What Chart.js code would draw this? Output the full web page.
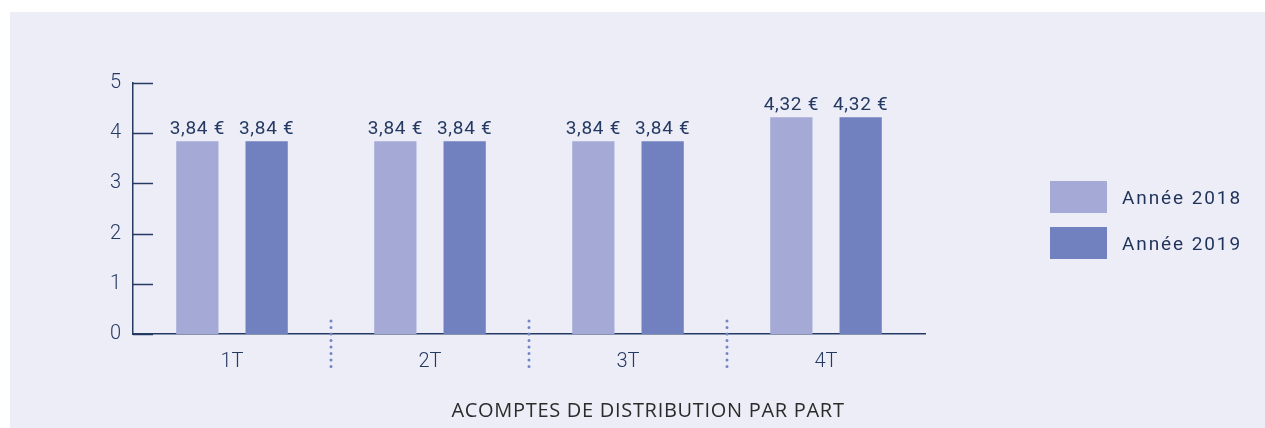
<!DOCTYPE html>
<html lang="fr">
<head>
<meta charset="utf-8">
<script src="https://cdn.jsdelivr.net/npm/chart.js@4.4.1/dist/chart.umd.min.js"></script>
<style>
    body { margin: 0; background: #ffffff; width: 1265px; height: 428px; overflow: hidden; }
    #panel { position: absolute; left: 10px; top: 12px; width: 1255px; height: 416px; background: #ededf7; }
    #acomptes { position: absolute; left: 0; top: 0; }
    .legend-item { position: absolute; left: 1040px; height: 32px; display: flex; align-items: center;
        font-family: Roboto, sans-serif; font-size: 19px; letter-spacing: 1.9px; color: #1f335a; }
    .legend-item span.box { display: inline-block; width: 57px; height: 32px; margin-right: 15px; }
    #chart-title { position: absolute; left: 0; width: 1276px; top: 384px; text-align: center;
        font-family: "Open Sans", sans-serif; font-size: 20px; letter-spacing: 0.7px; color: #2b2b2b; }
</style>
</head>
<body>
<div id="panel">
    <canvas id="acomptes" width="1255" height="416"></canvas>
    <div id="legend"></div>
    <div id="chart-title">ACOMPTES DE DISTRIBUTION PAR PART</div>
</div>

<script>
// --- Data ---
const trimestres = ["1T", "2T", "3T", "4T"];
const annee2018 = [3.84, 3.84, 3.84, 4.32];
const annee2019 = [3.84, 3.84, 3.84, 4.32];
const seriesLabels = ["Année 2018", "Année 2019"];
const yTicks = [0, 1, 2, 3, 4, 5];

const navy = "#253a62";
const colors = ["#a4aad5", "#7181bf"];

// --- Legend (html) ---
const legendEl = document.getElementById("legend");
seriesLabels.forEach(function (lbl, i) {
    const item = document.createElement("div");
    item.className = "legend-item";
    item.style.top = (169 + i * 46) + "px";
    item.innerHTML = '<span class="box" style="background:' + colors[i] + '"></span>' + lbl;
    legendEl.appendChild(item);
});

function euro(v) {
    return v.toFixed(2).replace(".", ",") + " €";
}

// --- Plugins ---
// small inward ticks on the y axis
const yTickMarks = {
    id: "yTickMarks",
    afterDraw(chart) {
        const ctx = chart.ctx;
        const y = chart.scales.y;
        ctx.save();
        ctx.strokeStyle = navy;
        ctx.lineWidth = 1.5;
        yTicks.forEach(function (t) {
            const py = Math.round(y.getPixelForValue(t)) + 0.5;
            ctx.beginPath();
            ctx.moveTo(y.right, py);
            ctx.lineTo(y.right + 20, py);
            ctx.stroke();
        });
        ctx.restore();
    }
};

// dotted separators between quarters
const separators = {
    id: "separators",
    afterDraw(chart) {
        const ctx = chart.ctx;
        const x = chart.scales.x;
        const bottom = chart.chartArea.bottom;
        ctx.save();
        ctx.strokeStyle = "#7385c4";
        ctx.lineWidth = 3;
        ctx.lineCap = "round";
        ctx.setLineDash([0, 6.5]);
        for (let i = 0; i < trimestres.length - 1; i++) {
            const px = (x.getPixelForValue(i) + x.getPixelForValue(i + 1)) / 2;
            ctx.beginPath();
            ctx.moveTo(px, bottom - 13);
            ctx.lineTo(px, bottom + 36);
            ctx.stroke();
        }
        ctx.restore();
    }
};

// value labels above bars
const barValues = {
    id: "barValues",
    afterDatasetsDraw(chart) {
        const ctx = chart.ctx;
        ctx.save();
        ctx.fillStyle = navy;
        ctx.font = "19px Roboto";
        ctx.letterSpacing = "0.7px";
        ctx.textAlign = "center";
        ctx.textBaseline = "bottom";
        chart.data.datasets.forEach(function (ds, di) {
            chart.getDatasetMeta(di).data.forEach(function (bar, i) {
                ctx.fillText(euro(ds.data[i]), bar.x, bar.y - 2);
            });
        });
        ctx.restore();
    }
};

// --- Chart ---
new Chart(document.getElementById("acomptes").getContext("2d"), {
    type: "bar",
    data: {
        labels: trimestres,
        datasets: [
            { label: seriesLabels[0], data: annee2018, backgroundColor: colors[0] },
            { label: seriesLabels[1], data: annee2019, backgroundColor: colors[1] }
        ]
    },
    options: {
        responsive: false,
        animation: false,
        events: [],
        categoryPercentage: 0.7,
        barPercentage: 0.61,
        layout: { padding: { top: 71, right: 340, bottom: 0, left: 0 } },
        plugins: { legend: { display: false }, tooltip: { enabled: false } },
        scales: {
            x: {
                grid: { display: false, drawTicks: false },
                border: { display: true, color: navy, width: 1.5 },
                ticks: { color: navy, padding: 16, font: { family: "Roboto", size: 20, weight: 300 } },
                afterFit(scale) { scale.height = 94; }
            },
            y: {
                min: 0,
                max: 5,
                afterBuildTicks(scale) { scale.ticks = yTicks.map(v => ({ value: v })); },
                grid: { display: false, drawTicks: false },
                border: { display: true, color: navy, width: 1.5 },
                ticks: { color: navy, padding: 12, font: { family: "Roboto", size: 20, weight: 300 } },
                afterFit(scale) { scale.width = 123; }
            }
        }
    },
    plugins: [yTickMarks, separators, barValues]
});
</script>
</body>
</html>
